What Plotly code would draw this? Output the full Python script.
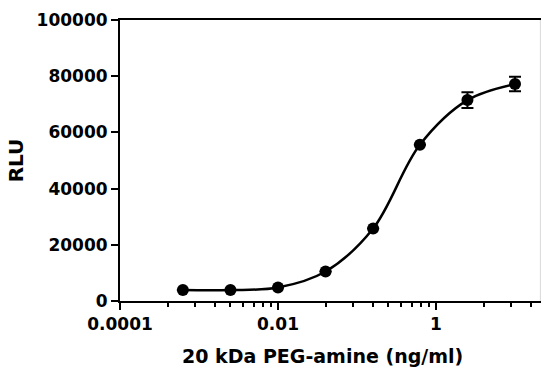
import plotly.graph_objects as go

# Data
conc = [0.000625, 0.0025, 0.01, 0.04, 0.16, 0.625, 2.5, 10]
rlu = [3900, 3900, 4800, 10500, 25800, 55600, 71500, 77200]
err = [0, 0, 0, 0, 0, 0, 2800, 2600]

x_tickvals = [0.0001, 0.01, 1]
x_ticktext = ["0.0001", "0.01", "1"]
x_minor_mult = [2, 3, 4, 5, 6, 7, 8, 9]
y_tickvals = [0, 20000, 40000, 60000, 80000, 100000]
y_ticktext = ["0", "20000", "40000", "60000", "80000", "100000"]

x_minor = [m * k * k for m in x_tickvals for k in x_minor_mult]

FONT = "DejaVu Sans"

fig = go.Figure()
fig.add_trace(go.Scatter(
    x=conc, y=rlu, mode="lines",
    line=dict(color="black", width=2.5, shape="spline", smoothing=1.0),
    hoverinfo="skip", showlegend=False,
))
fig.add_trace(go.Scatter(
    x=conc, y=rlu, mode="markers",
    marker=dict(color="black", size=12),
    error_y=dict(type="data", array=err, visible=True, color="black", thickness=2, width=6),
    showlegend=False,
))

fig.update_layout(
    width=541, height=368,
    margin=dict(l=120, r=0, t=20, b=67),
    paper_bgcolor="white", plot_bgcolor="white",
    font=dict(family=FONT, color="black"),
    shapes=[dict(type="line", xref="paper", yref="paper", x0=0.9985, x1=0.9985, y0=0, y1=1,
                 line=dict(color="#d8d8d8", width=1))],
    annotations=[dict(text="<b>20 kDa PEG-amine (ng/ml)</b>", xref="paper", yref="paper",
                      x=0.48, y=0, xanchor="center", yanchor="middle", yshift=-55,
                      showarrow=False, font=dict(family=FONT, size=19, color="black"))],
)
fig.update_xaxes(
    type="log", range=[-4, 1.329],
    tickmode="array", tickvals=x_tickvals, ticktext=x_ticktext,
    ticks="outside", ticklen=7, tickwidth=2, tickcolor="black",
    showline=True, linecolor="black", linewidth=2, mirror=True,
    showgrid=False, zeroline=False,
    tickfont=dict(family=FONT, size=17, color="black", weight="bold"),
    minor=dict(tickmode="array", tickvals=x_minor, ticks="outside", ticklen=4,
               tickwidth=2, tickcolor="black", showgrid=False),
)
fig.update_yaxes(
    range=[0, 100000],
    tickmode="array", tickvals=y_tickvals, ticktext=y_ticktext,
    ticks="outside", ticklen=7, tickwidth=2, tickcolor="black",
    showline=True, linecolor="black", linewidth=2,
    showgrid=False, zeroline=False,
    tickfont=dict(family=FONT, size=17, color="black", weight="bold"),
    title=dict(text="<b>RLU</b>", font=dict(family=FONT, size=20, color="black"), standoff=8),
)

fig.write_html("out.html", config={"displayModeBar": False},
               post_script="document.body.style.margin='0';document.body.style.overflow='hidden';")
